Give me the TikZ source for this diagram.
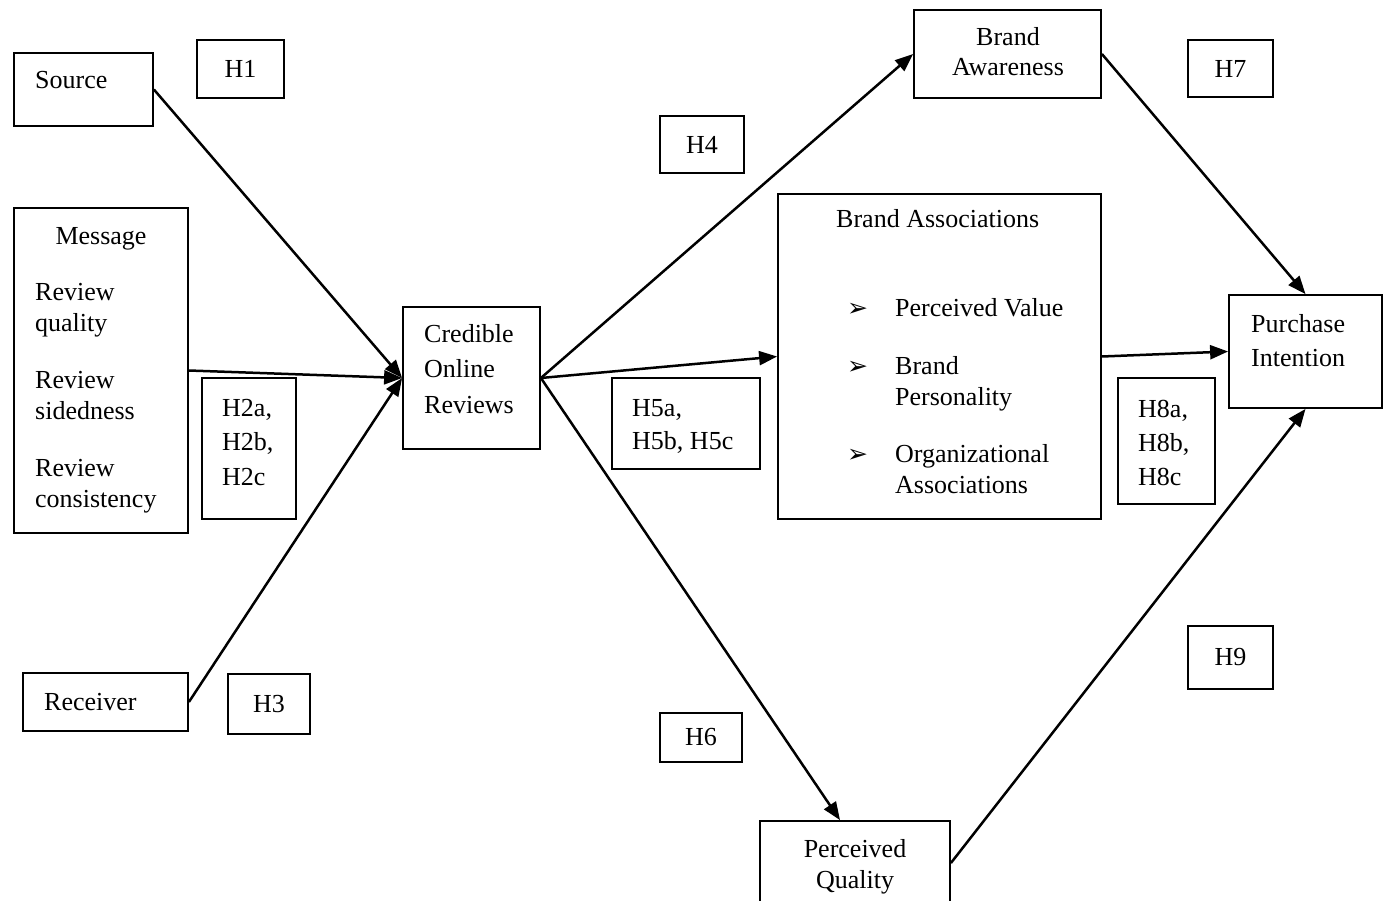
\documentclass[tikz,border=0pt]{standalone}
\usepackage{fontspec}
\setmainfont{Liberation Serif}
\newfontfamily\symfont{DejaVu Sans}
\usetikzlibrary{arrows.meta}

\tikzset{
    box/.style={draw, black, line width=1.8pt, inner sep=0pt},
    txt/.style={inner sep=0pt, align=left, anchor=base west, font={\fontsize{26}{31}\selectfont}},
    arr/.style={black, line width=2.5pt, -{Triangle[length=18pt,width=14pt]}},
    bul/.style={inner sep=0pt, anchor=base west, font={\symfont\fontsize{25}{25}\selectfont}}
}

\begin{document}
\begin{tikzpicture}[x=1pt, y=-1pt]
        \useasboundingbox (0,0) rectangle (1383,901);

        % Desenha as caixas
        \node[box, minimum width=139pt, minimum height=73pt] (source) at (83.5,89.5) {};
        \node[box, minimum width=174pt, minimum height=325pt] (message) at (101,370.5) {};
        \node[box, minimum width=165pt, minimum height=58pt] (receiver) at (105.5,702) {};
        \node[box, minimum width=137pt, minimum height=142pt] (credible) at (471.5,378) {};
        \node[box, minimum width=187pt, minimum height=88pt] (awareness) at (1007.5,54) {};
        \node[box, minimum width=323pt, minimum height=325pt] (associations) at (939.5,356.5) {};
        \node[box, minimum width=190pt, minimum height=84pt] (quality) at (855,863) {};
        \node[box, minimum width=153pt, minimum height=113pt] (purchase) at (1305.5,351.5) {};

        % Hipoteses
        \node[box, txt, anchor=center, minimum width=87pt, minimum height=58pt] (h1) at (240.5,69) {H1};
        \node[box, minimum width=94pt, minimum height=141pt] (h2) at (249,448.5) {};
        \node[box, txt, anchor=center, minimum width=82pt, minimum height=60pt] (h3) at (269,704) {H3};
        \node[box, txt, anchor=center, minimum width=84pt, minimum height=57pt] (h4) at (702,144.5) {H4};
        \node[box, minimum width=148pt, minimum height=91pt] (h5) at (686,423.5) {};
        \node[box, txt, anchor=center, minimum width=82pt, minimum height=49pt] (h6) at (701,737.5) {H6};
        \node[box, txt, anchor=center, minimum width=85pt, minimum height=57pt] (h7) at (1230.5,68.5) {H7};
        \node[box, minimum width=97pt, minimum height=126pt] (h8) at (1166.5,441) {};
        \node[box, txt, anchor=center, minimum width=85pt, minimum height=63pt] (h9) at (1230.5,657.5) {H9};

        % Textos (base = ultima linha)
        \node[txt] (tsource) at (35,89) {Source};
        \node[txt, anchor=base] (tmessage) at (101,244) {Message};
        \node[txt] (treview) at (35,507) {Review\\quality\\[26pt]Review\\sidedness\\[26pt]Review\\consistency};
        \node[txt, font={\fontsize{26}{34.5}\selectfont}] (th2) at (222,485) {H2a,\\H2b,\\H2c};
        \node[txt] (treceiver) at (44,710) {Receiver};
        \node[txt, font={\fontsize{26}{35.5}\selectfont}] (tcredible) at (424,413) {Credible\\Online\\Reviews};
        \node[txt, anchor=base, align=center, font={\fontsize{26}{30}\selectfont}] (tawareness) at (1008,76) {Brand\\Awareness};
        \node[txt] (tassociations) at (836,228) {Brand Associations};
        \node[bul] (b1) at (847,316) {➢};
        \node[bul] (b2) at (847,374) {➢};
        \node[bul] (b3) at (847,462) {➢};
        \node[txt] (tvalue) at (895,316) {Perceived Value};
        \node[txt] (tpersonality) at (895,405) {Brand\\Personality};
        \node[txt] (torganizational) at (895,493) {Organizational\\Associations};
        \node[txt, font={\fontsize{26}{33}\selectfont}] (th5) at (632,449) {H5a,\\H5b, H5c};
        \node[txt, font={\fontsize{26}{34}\selectfont}] (tpurchase) at (1251,366) {Purchase\\Intention};
        \node[txt, font={\fontsize{26}{34}\selectfont}] (th8) at (1138,485) {H8a,\\H8b,\\H8c};
        \node[txt, anchor=base, align=center] (tquality) at (855,888) {Perceived\\Quality};

        % Setas
        \draw[arr] (source.east) -- (credible.west);
        \draw[arr] (message.east) -- (credible.west);
        \draw[arr] (receiver.east) -- (credible.west);
        \draw[arr] (credible.east) -- (awareness.west);
        \draw[arr] (credible.east) -- (associations.west);
        \draw[arr] (credible.east) -- ([xshift=-15pt]quality.north);
        \draw[arr] (awareness.east) -- (purchase.north);
        \draw[arr] (associations.east) -- (purchase.west);
        \draw[arr] (quality.east) -- (purchase.south);
\end{tikzpicture}
\end{document}
